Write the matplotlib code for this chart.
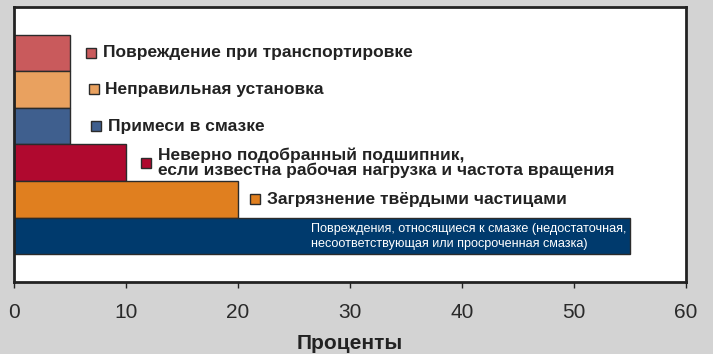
import matplotlib
matplotlib.use("Agg")
import matplotlib.pyplot as plt

categories = [
    "Повреждение при транспортировке",
    "Неправильная установка",
    "Примеси в смазке",
    "Неверно подобранный подшипник,\nесли известна рабочая нагрузка и частота вращения",
    "Загрязнение твёрдыми частицами",
    "Повреждения, относящиеся к смазке (недостаточная,\nнесоответствующая или просроченная смазка)",
]
values = [5, 5, 5, 10, 20, 55]
colors = ["#c95a5c", "#e9a15f", "#3f5f8e", "#b0092f", "#e07f1f", "#003a6d"]
xticks = [0, 10, 20, 30, 40, 50, 60]
xlabel = "Проценты"

font = "Liberation Sans"
ink = "#222222"
marker_offsets = [1.9, 2.1, 2.3, 1.8, 1.5]

fig = plt.figure(figsize=(7.13, 3.54), dpi=100, facecolor="#d3d3d3")
ax = fig.add_axes([14/713, 1-282/354, 672/713, 275/354])
ax.set_facecolor("white")

n = len(values)
ypos = list(range(n))
ax.barh(ypos, values, height=1.0, color=colors, edgecolor="#2b2b2b", linewidth=1.0, zorder=2)
ax.set_ylim(n - 0.5 + 0.75, -0.5 - 0.75)
ax.set_xlim(0, 60)
ax.set_yticks([])
ax.set_xticks(xticks)
ax.set_xticklabels([str(t) for t in xticks], family=font, fontsize=15, color="#2a2a2a")
ax.tick_params(axis="x", direction="out", length=4, width=1, pad=11, color=ink)
for s in ax.spines.values():
    s.set_linewidth(2)
    s.set_color(ink)
ax.set_xlabel(xlabel, family=font, fontweight="bold", fontsize=15, labelpad=9, color=ink)

for i, (cat, v, c) in enumerate(zip(categories, values, colors)):
    if i < n - 1:
        mx = v + marker_offsets[i]
        ax.plot([mx], [i], marker="s", markersize=7.5, markerfacecolor=c,
                markeredgecolor="#2b2b2b", markeredgewidth=1, zorder=3, clip_on=False)
        ax.text(mx + 1.05, i, cat, va="center", ha="left", fontsize=12.5,
                fontweight="bold", family=font, color=ink, linespacing=0.93)
    else:
        ax.text(v - 0.3, i, cat, va="center", ha="right",
                fontsize=9.1, family=font, color="white", linespacing=1.3,
                multialignment="left")

fig.savefig("out.png", dpi=100, facecolor=fig.get_facecolor())
